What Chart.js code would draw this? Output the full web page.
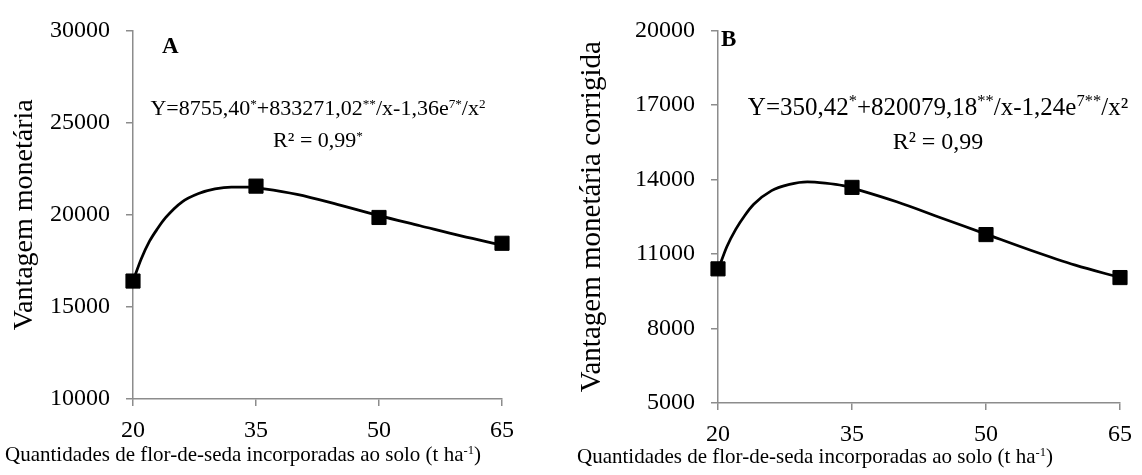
<!DOCTYPE html>
<html>
<head>
<meta charset="utf-8">
<script src="https://cdn.jsdelivr.net/npm/chart.js@4"></script>
<style>
  body { margin: 0; background: #fff; font-family: "Liberation Serif", "Times New Roman", serif; }
  .panel { position: absolute; top: 0; width: 571px; height: 475px; }
  .txt { position: absolute; white-space: nowrap; color: #000; line-height: 1; }
  .eq { font-size: 22px; text-align: center; width: 440px; }
  .xt { font-size: 21px; }
  sup { font-size: 0.6em; vertical-align: 0.55em; line-height: 0; }
  .big sup { font-size: 0.66em; }
</style>
</head>
<body>
<div class="panel" style="left:0"><canvas id="chartA"></canvas></div>
<div class="panel" style="left:571px"><canvas id="chartB"></canvas></div>

<div class="txt" style="left:162px;top:34px;font-size:23px;font-weight:bold">A</div>
<div class="txt" style="left:721px;top:27px;font-size:23px;font-weight:bold">B</div>

<div class="txt eq" style="left:98px;top:97px">Y=8755,40<sup>*</sup>+833271,02<sup>**</sup>/x-1,36e<sup>7*</sup>/x<sup>2</sup></div>
<div class="txt eq" style="left:98px;top:129px">R² = 0,99<sup>*</sup></div>
<div class="txt eq big" style="left:718px;top:94px;font-size:25px">Y=350,42<sup>*</sup>+820079,18<sup>**</sup>/x-1,24e<sup>7**</sup>/x²</div>
<div class="txt eq big" style="left:718px;top:129px;font-size:24px">R² = 0,99</div>

<div class="txt xt" style="left:5px;top:444px">Quantidades de flor-de-seda incorporadas ao solo (t ha<sup>-1</sup>)</div>
<div class="txt xt" style="left:577px;top:446px">Quantidades de flor-de-seda incorporadas ao solo (t ha<sup>-1</sup>)</div>

<script>
// doses (t/ha)
var doses = [20, 35, 50, 65];
var vantagemA = [16400, 21550, 19850, 18450];
var vantagemB = [10400, 13680, 11780, 10050];

// fitted curves
var curvaX = [20, 21, 22, 23, 24, 26, 28, 30, 32, 34, 36, 40, 45, 50, 55, 60, 65];
var curvaA = [16400, 17600, 18550, 19250, 19850, 20700, 21150, 21400, 21500, 21500, 21400, 21100, 20550, 19950, 19400, 18850, 18350];
var curvaB = [10350, 11300, 12000, 12550, 13000, 13550, 13800, 13900, 13850, 13750, 13550, 13100, 12450, 11800, 11150, 10550, 10050];

var yTicksA = [10000, 30000, 5000];
var yTicksB = [5000, 20000, 3000];

var serif = 'Liberation Serif';
var axisGray = '#8c8c8c';

function pts(xs, ys) {
    return xs.map(function (x, i) { return { x: x, y: ys[i] }; });
}

function plain(v) { return String(v); }

function makeChart(id, pontos, curva, yt, yTitle, cfg) {
    var ctx = document.getElementById(id).getContext('2d');
    return new Chart(ctx, {
        type: 'scatter',
        data: {
            datasets: [{
                data: pts(doses, pontos),
                pointStyle: 'rect',
                pointRadius: 10,
                pointHoverRadius: 10,
                backgroundColor: '#000',
                borderColor: '#000',
                borderWidth: 1,
                clip: false,
                order: 0
            }, {
                data: pts(curvaX, curva),
                showLine: true,
                cubicInterpolationMode: 'monotone',
                borderColor: '#000',
                borderWidth: 2.75,
                pointRadius: 0,
                clip: false,
                order: 1
            }]
        },
        options: {
            responsive: false,
            animation: false,
            layout: { padding: { top: cfg.top, right: cfg.right, left: 0, bottom: 0 } },
            plugins: { legend: { display: false }, tooltip: { enabled: false } },
            scales: {
                x: {
                    type: 'linear',
                    min: 20, max: 65,
                    afterFit: function (s) { s.height = cfg.xh; },
                    border: { color: axisGray, width: 1.5 },
                    grid: { drawOnChartArea: false, drawTicks: true, tickLength: 7, color: axisGray, lineWidth: 1.5 },
                    ticks: { stepSize: 15, padding: 10, color: '#000', font: { family: serif, size: 24 }, callback: plain }
                },
                y: {
                    min: yt[0], max: yt[1],
                    afterFit: function (s) { s.width = cfg.yw; },
                    border: { color: axisGray, width: 1.5 },
                    grid: { drawOnChartArea: false, drawTicks: true, tickLength: 7, color: axisGray, lineWidth: 1.5 },
                    ticks: { stepSize: yt[2], padding: 16, color: '#000', font: { family: serif, size: 24 }, callback: plain },
                    title: { display: true, text: yTitle, color: '#000', padding: { top: cfg.tp, bottom: 0 }, font: { family: serif, size: cfg.ts } }
                }
            }
        }
    });
}

document.getElementById('chartA').width = 571;
document.getElementById('chartA').height = 475;
document.getElementById('chartB').width = 571;
document.getElementById('chartB').height = 475;

makeChart('chartA', vantagemA, curvaA, yTicksA, 'Vantagem monetária', { top: 29, right: 69, xh: 76, yw: 133, tp: 8, ts: 28 });
makeChart('chartB', vantagemB, curvaB, yTicksB, 'Vantagem monetária corrigida', { top: 23, right: 17, xh: 72, yw: 147, tp: 4, ts: 29 });
</script>
</body>
</html>
